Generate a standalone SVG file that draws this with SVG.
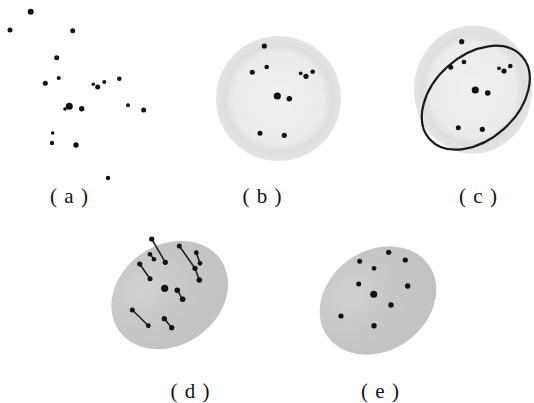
<svg xmlns="http://www.w3.org/2000/svg" width="534" height="403" viewBox="0 0 534 403">
<defs>
<radialGradient id="disc" cx="0.5" cy="0.5" r="0.5">
<stop offset="0" stop-color="#f0f0f0"/>
<stop offset="0.72" stop-color="#ececec"/>
<stop offset="0.85" stop-color="#dedede"/>
<stop offset="1" stop-color="#e4e4e4"/>
</radialGradient>
<radialGradient id="blob" cx="0.35" cy="0.3" r="0.75">
<stop offset="0" stop-color="#d2d2d2"/>
<stop offset="0.5" stop-color="#c6c6c6"/>
<stop offset="1" stop-color="#c2c2c2"/>
</radialGradient>
</defs>
<style>
.d{fill:#111}
.lbl{font-family:"Liberation Serif","Times New Roman",serif;font-size:21px;word-spacing:2px;fill:#111;text-anchor:middle}
.ln{stroke:#222;stroke-width:1.6;fill:none}
.ring{fill:none;stroke:#1a1a1a;stroke-width:2.2}
</style>
<rect width="534" height="403" fill="#fff"/>

<g id="panel-a">
<circle class="d" cx="30.7" cy="11.7" r="3"/>
<circle class="d" cx="10" cy="30" r="2.5"/>
<circle class="d" cx="72.7" cy="30.7" r="2.5"/>
<circle class="d" cx="56.7" cy="57.7" r="2.5"/>
<circle class="d" cx="58.7" cy="78" r="2"/>
<circle class="d" cx="45.3" cy="83.3" r="2.5"/>
<circle class="d" cx="93.3" cy="84.3" r="1.8"/>
<circle class="d" cx="97.7" cy="87" r="2.5"/>
<circle class="d" cx="104.3" cy="82" r="2"/>
<circle class="d" cx="119.3" cy="78.7" r="2.3"/>
<circle class="d" cx="69.3" cy="106.3" r="3.5"/>
<circle class="d" cx="65" cy="109" r="1.8"/>
<circle class="d" cx="81.7" cy="108.7" r="2.7"/>
<circle class="d" cx="128" cy="105.3" r="2"/>
<circle class="d" cx="143.7" cy="110" r="2.5"/>
<circle class="d" cx="52.7" cy="133" r="1.8"/>
<circle class="d" cx="52" cy="143" r="2.2"/>
<circle class="d" cx="76" cy="145" r="2.7"/>
<circle class="d" cx="108" cy="178" r="2.2"/>
<text class="lbl" x="69" y="203">( a )</text>
</g>

<g id="panel-b">
<circle cx="278.5" cy="98.5" r="62.5" fill="url(#disc)"/>
<circle class="d" cx="264.3" cy="46" r="2.6"/>
<circle class="d" cx="266.7" cy="67" r="2.3"/>
<circle class="d" cx="252.3" cy="72.3" r="2.5"/>
<circle class="d" cx="300.7" cy="73.3" r="1.9"/>
<circle class="d" cx="306" cy="76.3" r="2.6"/>
<circle class="d" cx="312.7" cy="71.7" r="2.3"/>
<circle class="d" cx="277.3" cy="96" r="3.6"/>
<circle class="d" cx="289.3" cy="98.7" r="2.8"/>
<circle class="d" cx="260" cy="133.3" r="2.5"/>
<circle class="d" cx="284.3" cy="135.3" r="2.6"/>
<text class="lbl" x="262" y="203">( b )</text>
</g>

<g id="panel-c">
<ellipse cx="473" cy="89.5" rx="59" ry="64" fill="url(#disc)"/>
<ellipse class="ring" cx="475.8" cy="97.7" rx="62" ry="42" transform="rotate(-42 475.8 97.7)"/>
<circle class="d" cx="461.7" cy="41.7" r="2.6"/>
<circle class="d" cx="464" cy="62" r="2.3"/>
<circle class="d" cx="450.7" cy="67.3" r="2.5"/>
<circle class="d" cx="499" cy="68.3" r="1.9"/>
<circle class="d" cx="504" cy="71" r="2.6"/>
<circle class="d" cx="510.3" cy="66" r="2.3"/>
<circle class="d" cx="475.3" cy="90" r="3.6"/>
<circle class="d" cx="487.7" cy="93" r="2.8"/>
<circle class="d" cx="458.3" cy="127.7" r="2.5"/>
<circle class="d" cx="482.3" cy="129.3" r="2.6"/>
<text class="lbl" x="478" y="203">( c )</text>
</g>

<g id="panel-d">
<ellipse cx="169.7" cy="295" rx="62" ry="50" fill="url(#blob)" transform="rotate(-35 169.7 295)"/>
<g id="connectors">
<line class="ln" x1="151.7" y1="239" x2="165.3" y2="262.3"/>
<line class="ln" x1="150" y1="254.3" x2="154" y2="259.3"/>
<line class="ln" x1="139.7" y1="264" x2="150" y2="278.7"/>
<polyline class="ln" points="179.3,246 195,268.3 199.3,280"/>
<line class="ln" x1="196.3" y1="252.7" x2="200" y2="263.3"/>
<line class="ln" x1="177.3" y1="290.3" x2="182.7" y2="299.3"/>
<line class="ln" x1="132.3" y1="310" x2="148.3" y2="325.7"/>
<line class="ln" x1="164.3" y1="318.7" x2="171.7" y2="327.7"/>
</g>
<circle class="d" cx="151.7" cy="239" r="2.6"/>
<circle class="d" cx="165.3" cy="262.3" r="2.6"/>
<circle class="d" cx="150" cy="254.3" r="2.3"/>
<circle class="d" cx="154" cy="259.3" r="2.3"/>
<circle class="d" cx="139.7" cy="264" r="2.6"/>
<circle class="d" cx="150" cy="278.7" r="2.5"/>
<circle class="d" cx="179.3" cy="246" r="2.5"/>
<circle class="d" cx="195" cy="268.3" r="2.6"/>
<circle class="d" cx="199.3" cy="280" r="2.8"/>
<circle class="d" cx="196.3" cy="252.7" r="2.4"/>
<circle class="d" cx="200" cy="263.3" r="2.4"/>
<circle class="d" cx="164.7" cy="288.3" r="3.6"/>
<circle class="d" cx="177.3" cy="290.3" r="2.8"/>
<circle class="d" cx="182.7" cy="299.3" r="2.8"/>
<circle class="d" cx="132.3" cy="310" r="2.5"/>
<circle class="d" cx="148.3" cy="325.7" r="2.4"/>
<circle class="d" cx="164.3" cy="318.7" r="2.6"/>
<circle class="d" cx="171.7" cy="327.7" r="2.6"/>
<text class="lbl" x="190" y="398">( d )</text>
</g>

<g id="panel-e">
<ellipse cx="378" cy="300.5" rx="62" ry="50" fill="url(#blob)" transform="rotate(-35 378 300.5)"/>
<circle class="d" cx="388.7" cy="252.3" r="2.6"/>
<circle class="d" cx="405.3" cy="260" r="2.6"/>
<circle class="d" cx="359.7" cy="261.3" r="2.5"/>
<circle class="d" cx="374" cy="268.3" r="2.4"/>
<circle class="d" cx="358.7" cy="284" r="2.5"/>
<circle class="d" cx="407.7" cy="286" r="2.7"/>
<circle class="d" cx="373.7" cy="294.3" r="3.5"/>
<circle class="d" cx="391" cy="305" r="2.7"/>
<circle class="d" cx="341" cy="316" r="2.6"/>
<circle class="d" cx="374" cy="325.7" r="2.7"/>
<text class="lbl" x="380" y="398">( e )</text>
</g>
</svg>
